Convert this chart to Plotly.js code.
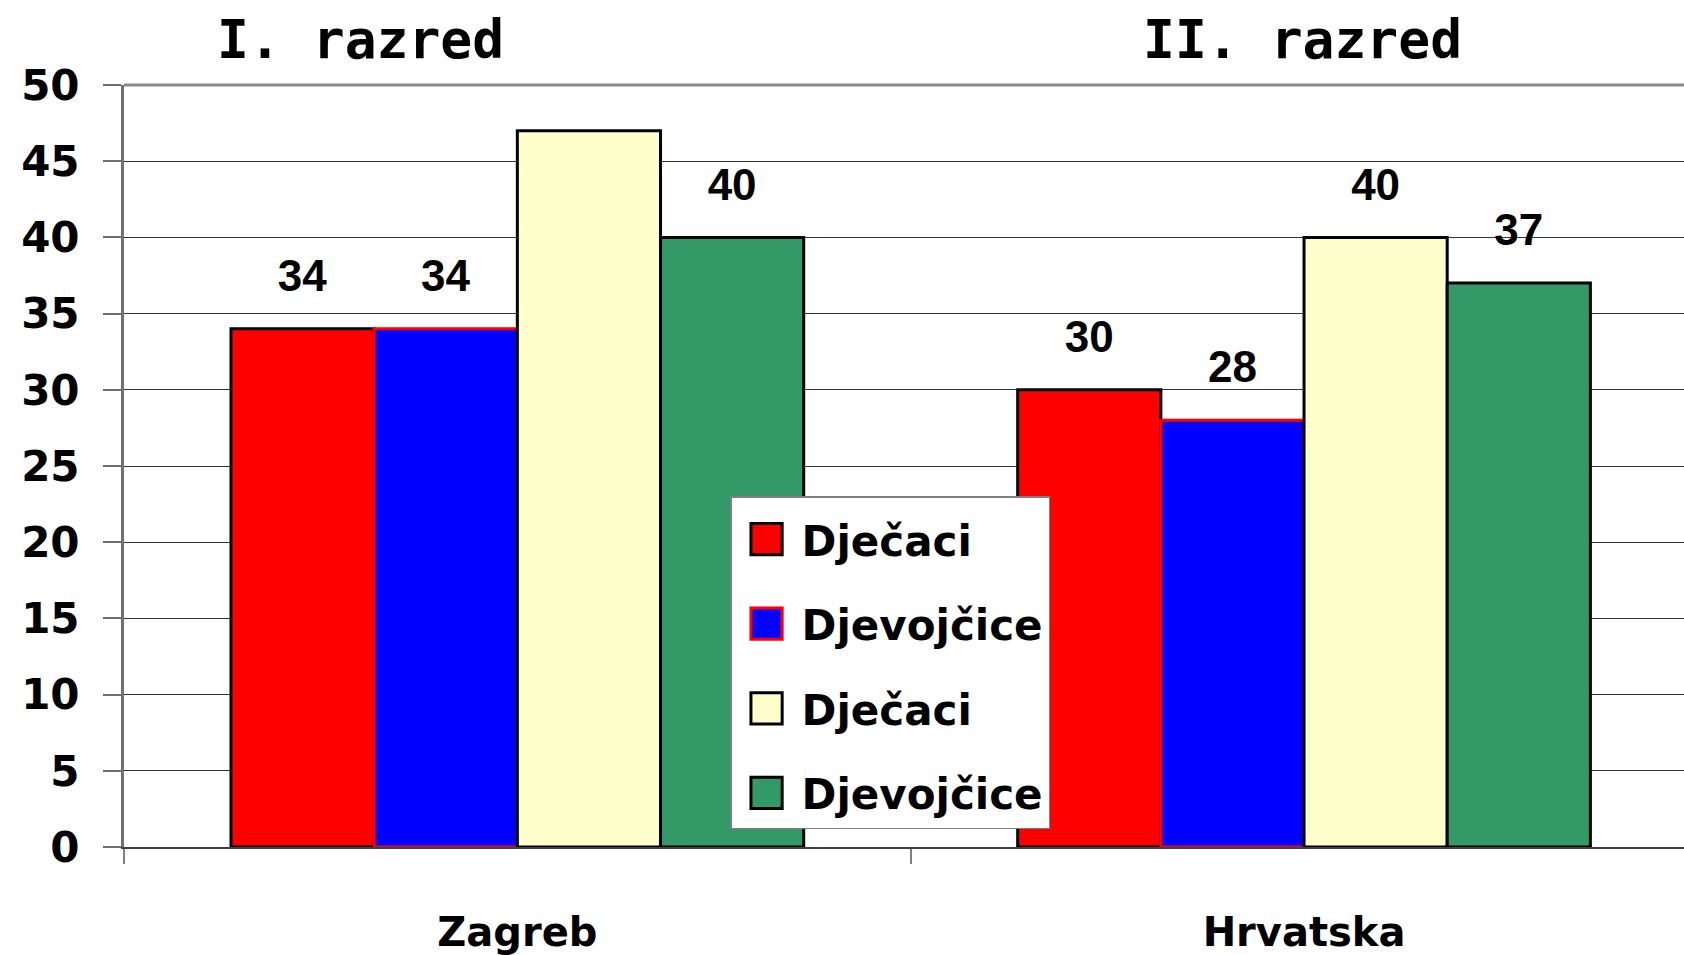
<!DOCTYPE html>
<html>
<head>
<meta charset="utf-8">
<script src="https://cdn.plot.ly/plotly-3.0.1.min.js"></script>
<style>
  html, body { margin: 0; padding: 0; background: #ffffff; }
  #chart { width: 1684px; height: 955px; }
</style>
</head>
<body>
<div id="chart"></div>
<script>
// ---- data ----
const categories = ['Zagreb', 'Hrvatska'];
const seriesNames = ['Dječaci', 'Djevojčice', 'Dječaci', 'Djevojčice'];
const djecaciI = [34, 30];
const djevojciceI = [34, 28];
const djecaciII = [47, 40];
const djevojciceII = [40, 37];
const titleLeft = 'I. razred';
const titleRight = 'II. razred';

// ---- styles ----
const seriesValues = [djecaciI, djevojciceI, djecaciII, djevojciceII];
const fills = ['#FF0000', '#0000FF', '#FFFFCC', '#339966'];
const outlines = ['#000000', '#FF0000', '#000000', '#000000'];
const LABEL_SPAN = 7; // axis units of the invisible label carrier (label centred LABEL_SPAN/2 above bar)
const comic = 'Comic Sans MS, DejaVu Sans, sans-serif';

const traces = [];
seriesValues.forEach((vals, i) => {
  traces.push({
    type: 'bar',
    x: categories,
    y: vals,
    name: seriesNames[i],
    offsetgroup: 'g' + i,
    legendgroup: 'g' + i,
    marker: { color: fills[i], line: { color: outlines[i], width: 3 } },
    hovertemplate: '%{x}: %{y}<extra>' + seriesNames[i] + '</extra>'
  });
});
seriesValues.forEach((vals, i) => {
  traces.push({
    type: 'bar',
    x: categories,
    base: vals,
    y: vals.map(() => LABEL_SPAN),
    offsetgroup: 'g' + i,
    text: vals.map(String),
    textposition: 'inside',
    insidetextanchor: 'middle',
    constraintext: 'none',
    textfont: { family: 'Liberation Sans, Arial, sans-serif', size: 44, weight: 'bold', color: '#000000' },
    marker: { color: 'rgba(0,0,0,0)', line: { width: 0 } },
    showlegend: false,
    hoverinfo: 'skip',
    cliponaxis: false
  });
});

const layout = {
  width: 1684,
  height: 955,
  margin: { l: 124, r: 0, t: 85, b: 108, pad: 0 },
  paper_bgcolor: '#ffffff',
  plot_bgcolor: '#ffffff',
  barmode: 'group',
  bargap: 0.272,
  bargroupgap: 0,
  showlegend: true,
  legend: {
    x: 0.3885, xanchor: 'left',
    y: 0.4606, yanchor: 'top',
    bgcolor: '#ffffff',
    bordercolor: '#808080',
    borderwidth: 1.5,
    itemwidth: 60,
    tracegroupgap: 27,
    traceorder: 'grouped',
    title: { text: ' ', font: { size: 6 } },
    font: { family: comic, size: 42, weight: 'bold', color: '#000000' }
  },
  xaxis: {
    type: 'category',
    range: [-0.5, 1.483],
    showgrid: false,
    showline: true,
    linecolor: '#404040',
    linewidth: 2,
    ticks: 'outside',
    tickson: 'boundaries',
    ticklen: 15,
    tickwidth: 1.5,
    tickcolor: '#808080',
    ticklabelstandoff: 49,
    tickfont: { family: comic, size: 40, weight: 'bold', color: '#000000' },
    fixedrange: true
  },
  yaxis: {
    range: [0, 50],
    dtick: 5,
    tick0: 0,
    showgrid: true,
    gridcolor: '#333333',
    gridwidth: 1,
    zeroline: false,
    showline: true,
    linecolor: '#707070',
    linewidth: 3,
    ticks: 'outside',
    ticklen: 18,
    tickwidth: 1.5,
    tickcolor: '#707070',
    ticklabelstandoff: 15,
    tickfont: { family: comic, size: 42, weight: 'bold', color: '#000000' },
    fixedrange: true
  },
  shapes: [{
    type: 'line', xref: 'paper', yref: 'paper',
    x0: 0, x1: 1, y0: 1, y1: 1,
    line: { color: '#888888', width: 3 }
  }],
  annotations: [
    { text: titleLeft, xref: 'paper', yref: 'paper', x: 0.1516, y: 1.06, xanchor: 'center', yanchor: 'middle', showarrow: false,
      font: { family: 'DejaVu Sans Mono, monospace', size: 53, weight: 'bold', color: '#000000' } },
    { text: titleRight, xref: 'paper', yref: 'paper', x: 0.7552, y: 1.06, xanchor: 'center', yanchor: 'middle', showarrow: false,
      font: { family: 'DejaVu Sans Mono, monospace', size: 53, weight: 'bold', color: '#000000' } }
  ]
};

function enlargeLegendSymbols() {
  document.querySelectorAll('#chart .legend .legendpoints path').forEach(p => {
    if (p.dataset.origTransform === undefined) {
      p.dataset.origTransform = p.getAttribute('transform') || '';
    }
    p.setAttribute('transform', p.dataset.origTransform + ' scale(2.6)');
    p.style.vectorEffect = 'non-scaling-stroke';
    p.style.strokeWidth = '3px';
  });
}

Plotly.newPlot('chart', traces, layout, { displayModeBar: false }).then(gd => {
  enlargeLegendSymbols();
  gd.on('plotly_afterplot', enlargeLegendSymbols);
});
</script>
</body>
</html>
